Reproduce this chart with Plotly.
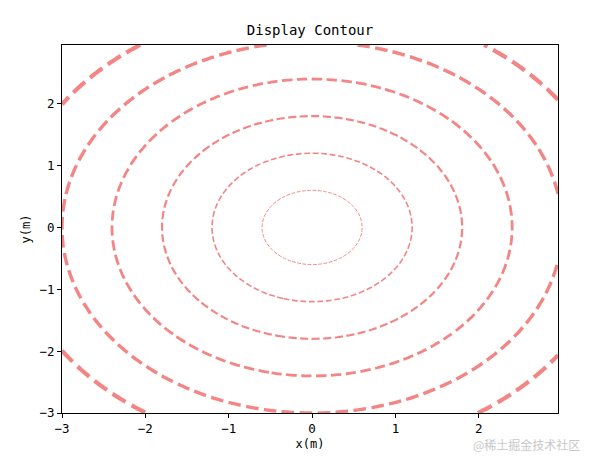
import numpy as np
import plotly.graph_objects as go

# grid and contour levels
x_vals = np.arange(-3, 3, 0.05)
y_vals = np.arange(-3, 3, 0.05)
levels = [0.6, 1.2, 1.8, 2.4, 3.0, 3.6]
line_widths = [1.0, 1.6, 2.2, 2.8, 3.4, 4.2]
tick_vals = [-3, -2, -1, 0, 1, 2]
tick_text = ["\u22123", "\u22122", "\u22121", "0", "1", "2"]

X, Y = np.meshgrid(x_vals, y_vals)
Z = np.sqrt(X ** 2 + Y ** 2)

color = "#f48585"
fig = go.Figure()
for lev, w in zip(levels, line_widths):
    fig.add_trace(go.Contour(
        x=x_vals, y=y_vals, z=Z,
        autocontour=False,
        contours=dict(start=lev, end=lev, size=1, coloring="lines", showlabels=False),
        colorscale=[[0, color], [1, color]],
        showscale=False,
        line=dict(width=w, dash=f"{3.7*w:.1f}px,{1.6*w:.1f}px", smoothing=1.3),
        hoverinfo="skip",
    ))

font_main = "DejaVu Sans Mono, Liberation Mono, monospace"
axis_common = dict(
    showgrid=False, zeroline=False, showline=True, linecolor="black", linewidth=1,
    mirror=True, ticks="outside", ticklen=4, tickcolor="black", automargin=False,
    tickfont=dict(family=font_main, size=12.5, color="black"),
    tickvals=tick_vals, ticktext=tick_text,
)
fig.update_layout(
    width=594, height=458,
    margin=dict(l=62, r=36, t=45, b=45, autoexpand=False),
    paper_bgcolor="white", plot_bgcolor="white",
    showlegend=False,
    title=dict(text="Display Contour", x=0.5 * (62 + 558) / 594, xanchor="center",
               y=1 - 30/458, yanchor="middle",
               font=dict(family=font_main, size=14, color="black")),
    xaxis=dict(range=[-3, 2.95], title=dict(text="x(m)", standoff=4,
               font=dict(family=font_main, size=12, color="black")), **axis_common),
    yaxis=dict(range=[-3, 2.95], title=dict(text="y(m)", standoff=6,
               font=dict(family=font_main, size=12, color="black")), **axis_common),
    annotations=[dict(text="@稀土掘金技术社区", xref="paper", yref="paper",
                      x=1 + 24/496, y=-31/368, xanchor="right", yanchor="middle",
                      showarrow=False,
                      font=dict(family="Noto Sans CJK SC", size=12, color="#c8c8c8"))],
)
fig.write_html("out.html", config={"displayModeBar": False},
               post_script="document.body.style.margin='0';")
